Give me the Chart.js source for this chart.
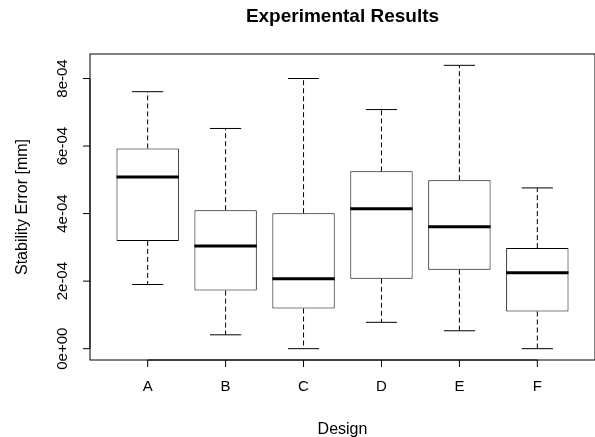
<!DOCTYPE html>
<html>
<head>
<meta charset="utf-8">
<script src="https://cdn.jsdelivr.net/npm/chart.js@4"></script>
<style>
  html, body { margin: 0; padding: 0; background: #fff; }
  #boxChart { display: block; }
</style>
</head>
<body>
<canvas id="boxChart" width="595" height="437"></canvas>
<script>
// Values
const categories = ['A', 'B', 'C', 'D', 'E', 'F'];
const positions = [1, 2, 3, 4, 5, 6];
const lowerWhisker = [1.90e-4, 0.41e-4, 0.00e-4, 0.78e-4, 0.53e-4, 0.00e-4];
const q1 = [3.19e-4, 1.72e-4, 1.19e-4, 2.07e-4, 2.34e-4, 1.10e-4];
const median = [5.08e-4, 3.04e-4, 2.07e-4, 4.14e-4, 3.61e-4, 2.25e-4];
const q3 = [5.93e-4, 4.10e-4, 4.01e-4, 5.25e-4, 4.99e-4, 2.98e-4];
const upperWhisker = [7.61e-4, 6.52e-4, 8.00e-4, 7.08e-4, 8.39e-4, 4.76e-4];
const yTickValues = [0, 2e-4, 4e-4, 6e-4, 8e-4];
const yTickLabels = ['0e+00', '2e-04', '4e-04', '6e-04', '8e-04'];

const FONT = '"Liberation Sans", Arial, sans-serif';

// R style axis ranges: extend by 4%
const yLo = Math.min(...lowerWhisker), yHi = Math.max(...upperWhisker);
const yPad = (yHi - yLo) * 0.04;
const xLo = 0.5, xHi = categories.length + 0.5;
const xPad = (xHi - xLo) * 0.04;

const boxplotExtras = {
  id: 'boxplotExtras',
  afterDatasetsDraw(chart) {
    const { ctx, chartArea: a, scales: { x, y } } = chart;
    ctx.save();
    ctx.strokeStyle = '#000';
    ctx.fillStyle = '#000';

    positions.forEach((p, i) => {
      const cx = x.getPixelForValue(p);
      const capL = x.getPixelForValue(p - 0.2), capR = x.getPixelForValue(p + 0.2);
      const boxL = x.getPixelForValue(p - 0.4), boxR = x.getPixelForValue(p + 0.4);
      // dashed whiskers
      ctx.lineWidth = 1;
      ctx.setLineDash([5, 3]);
      ctx.beginPath();
      ctx.moveTo(cx, y.getPixelForValue(q3[i]));
      ctx.lineTo(cx, y.getPixelForValue(upperWhisker[i]));
      ctx.moveTo(cx, y.getPixelForValue(q1[i]));
      ctx.lineTo(cx, y.getPixelForValue(lowerWhisker[i]));
      ctx.stroke();
      // whisker caps
      ctx.setLineDash([]);
      ctx.beginPath();
      ctx.moveTo(capL, y.getPixelForValue(upperWhisker[i]));
      ctx.lineTo(capR, y.getPixelForValue(upperWhisker[i]));
      ctx.moveTo(capL, y.getPixelForValue(lowerWhisker[i]));
      ctx.lineTo(capR, y.getPixelForValue(lowerWhisker[i]));
      ctx.stroke();
      // median
      ctx.lineWidth = 3;
      ctx.beginPath();
      ctx.moveTo(boxL, y.getPixelForValue(median[i]));
      ctx.lineTo(boxR, y.getPixelForValue(median[i]));
      ctx.stroke();
    });

    // plot frame
    ctx.lineWidth = 1;
    ctx.strokeRect(a.left, a.top, a.right - a.left, a.bottom - a.top);

    // y axis ticks + rotated labels
    ctx.font = '15px ' + FONT;
    ctx.textAlign = 'center';
    ctx.textBaseline = 'alphabetic';
    ctx.beginPath();
    ctx.moveTo(a.left, y.getPixelForValue(yTickValues[0]));
    ctx.lineTo(a.left, y.getPixelForValue(yTickValues[yTickValues.length - 1]));
    yTickValues.forEach(v => {
      const py = y.getPixelForValue(v);
      ctx.moveTo(a.left, py);
      ctx.lineTo(a.left - 7, py);
    });
    ctx.stroke();
    yTickValues.forEach((v, i) => {
      const py = y.getPixelForValue(v);
      ctx.save();
      ctx.translate(a.left - 23.5, py);
      ctx.rotate(-Math.PI / 2);
      ctx.fillText(yTickLabels[i], 0, 0);
      ctx.restore();
    });

    // x axis ticks + labels
    ctx.beginPath();
    ctx.moveTo(x.getPixelForValue(positions[0]), a.bottom);
    ctx.lineTo(x.getPixelForValue(positions[positions.length - 1]), a.bottom);
    positions.forEach(p => {
      const px = x.getPixelForValue(p);
      ctx.moveTo(px, a.bottom);
      ctx.lineTo(px, a.bottom + 7);
    });
    ctx.stroke();
    positions.forEach((p, i) => {
      ctx.fillText(categories[i], x.getPixelForValue(p), a.bottom + 31);
    });

    // axis titles
    ctx.font = '16px ' + FONT;
    ctx.fillText('Design', (a.left + a.right) / 2, a.bottom + 74);
    ctx.save();
    ctx.translate(27, (a.top + a.bottom) / 2);
    ctx.rotate(-Math.PI / 2);
    ctx.fillText('Stability Error [mm]', 0, 0);
    ctx.restore();

    ctx.restore();
  }
};

new Chart(document.getElementById('boxChart'), {
  type: 'bar',
  data: {
    datasets: [{
      label: 'IQR',
      data: positions.map((p, i) => ({ x: p, y: [q1[i], q3[i]] })),
      backgroundColor: '#ffffff',
      borderColor: '#000000',
      borderWidth: 1,
      borderSkipped: false,
      barPercentage: 0.8,
      categoryPercentage: 1.0
    }]
  },
  options: {
    responsive: false,
    animation: false,
    devicePixelRatio: 1,
    layout: { padding: { top: 0, left: 0, right: -1, bottom: 0 } },
    plugins: {
      legend: { display: false },
      tooltip: { enabled: false },
      title: {
        display: true,
        fullSize: false,
        text: 'Experimental Results',
        color: '#000',
        font: { family: FONT, size: 19, weight: 'bold', lineHeight: 1.2 },
        padding: { top: 5.1, bottom: 26.1 }
      }
    },
    scales: {
      x: {
        type: 'linear',
        offset: false,
        min: xLo - xPad,
        max: xHi + xPad,
        afterFit: s => { s.height = 77; },
        afterBuildTicks: s => { s.ticks = positions.map(v => ({ value: v })); },
        grid: { display: false },
        border: { display: false },
        ticks: { display: false }
      },
      y: {
        type: 'linear',
        min: yLo - yPad,
        max: yHi + yPad,
        afterFit: s => { s.width = 90; },
        afterBuildTicks: s => { s.ticks = yTickValues.map(v => ({ value: v })); },
        grid: { display: false },
        border: { display: false },
        ticks: { display: false }
      }
    }
  },
  plugins: [boxplotExtras]
});
</script>
</body>
</html>
